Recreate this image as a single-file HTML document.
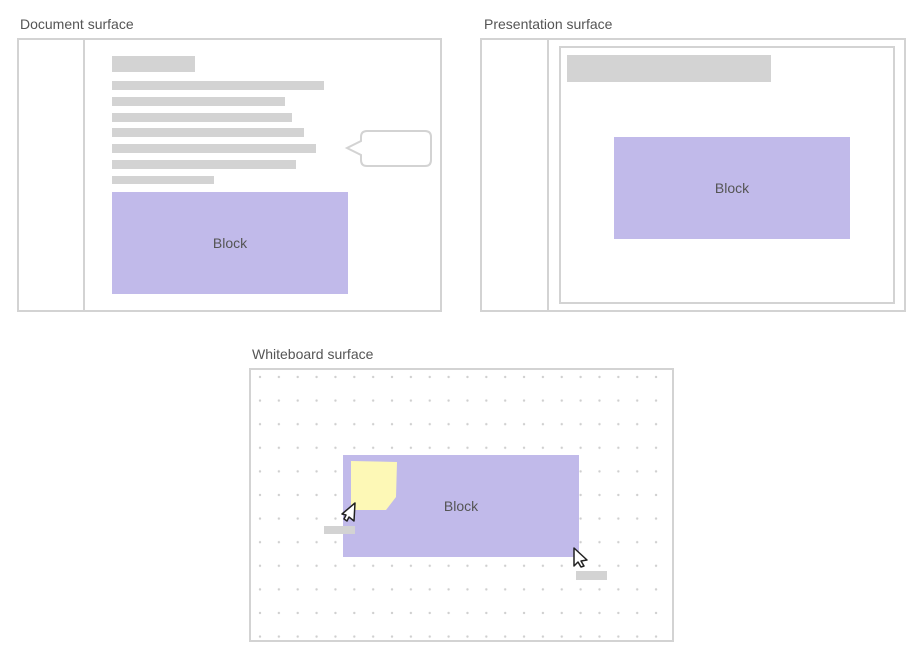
<!DOCTYPE html>
<html><head><meta charset="utf-8"><style>
body{margin:0;background:#fff;width:921px;height:659px;overflow:hidden;font-family:"Liberation Sans",sans-serif}
</style></head><body>
<svg width="921" height="659" viewBox="0 0 921 659" xmlns="http://www.w3.org/2000/svg" font-family="Liberation Sans, sans-serif">
<defs>
<pattern id="dp" patternUnits="userSpaceOnUse" x="250.57" y="365.2" width="18.86" height="23.6">
<circle cx="9.43" cy="11.8" r="1.2" fill="#cfcfcf"/>
</pattern>
</defs>
<g font-size="14" fill="#555">
<text x="20" y="29">Document surface</text>
<text x="484" y="29">Presentation surface</text>
<text x="252" y="359">Whiteboard surface</text>
</g>
<rect x="251" y="370" width="421" height="270" fill="url(#dp)"/>
<g fill="none" stroke="#d3d3d3" stroke-width="2">
<rect x="18" y="39" width="423" height="272"/>
<line x1="84" y1="39" x2="84" y2="311"/>
<rect x="481" y="39" width="424" height="272"/>
<line x1="548" y1="39" x2="548" y2="311"/>
<rect x="560" y="47" width="334" height="256"/>
<rect x="250" y="369" width="423" height="272"/>
<path d="M367 131 H425 Q431 131 431 137 V160 Q431 166 425 166 H367 Q361 166 361 160 V155 L347 148 L361 141 V137 Q361 131 367 131 Z"/>
</g>
<g fill="#d3d3d3">
<rect x="112" y="56" width="83" height="16"/>
<rect x="112" y="81" width="212" height="9"/>
<rect x="112" y="97" width="173" height="9"/>
<rect x="112" y="113" width="180" height="9"/>
<rect x="112" y="128" width="192" height="9"/>
<rect x="112" y="144" width="204" height="9"/>
<rect x="112" y="160" width="184" height="9"/>
<rect x="112" y="176" width="102" height="8"/>
<rect x="567" y="55" width="204" height="27"/>
</g>
<rect x="112" y="192" width="236" height="102" fill="#c1baea"/>
<rect x="614" y="137" width="236" height="102" fill="#c1baea"/>
<rect x="343" y="455" width="236" height="102" fill="#c1baea"/>
<path d="M351 461 L397 462 L396 497 L386 510 L351 510 Z" fill="#fdf8b6"/>
<g fill="#d3d3d3">
<rect x="324" y="526" width="31" height="8"/>
<rect x="576" y="571" width="31" height="9"/>
</g>
<g font-size="14" fill="#555" text-anchor="middle">
<text x="230" y="248">Block</text>
<text x="732" y="193">Block</text>
<text x="461" y="511">Block</text>
</g>
<g fill="#fff" stroke="#222" stroke-width="1.5" stroke-linejoin="round">
<path d="M355 503 L354 521 L349 517 L347 521 L344 519 L346 515 L342 514 Z"/>
<path d="M574 548 L574 566 L578 562 L581 567 L584 566 L581 561 L587 560 Z"/>
</g>
</svg>
</body></html>
